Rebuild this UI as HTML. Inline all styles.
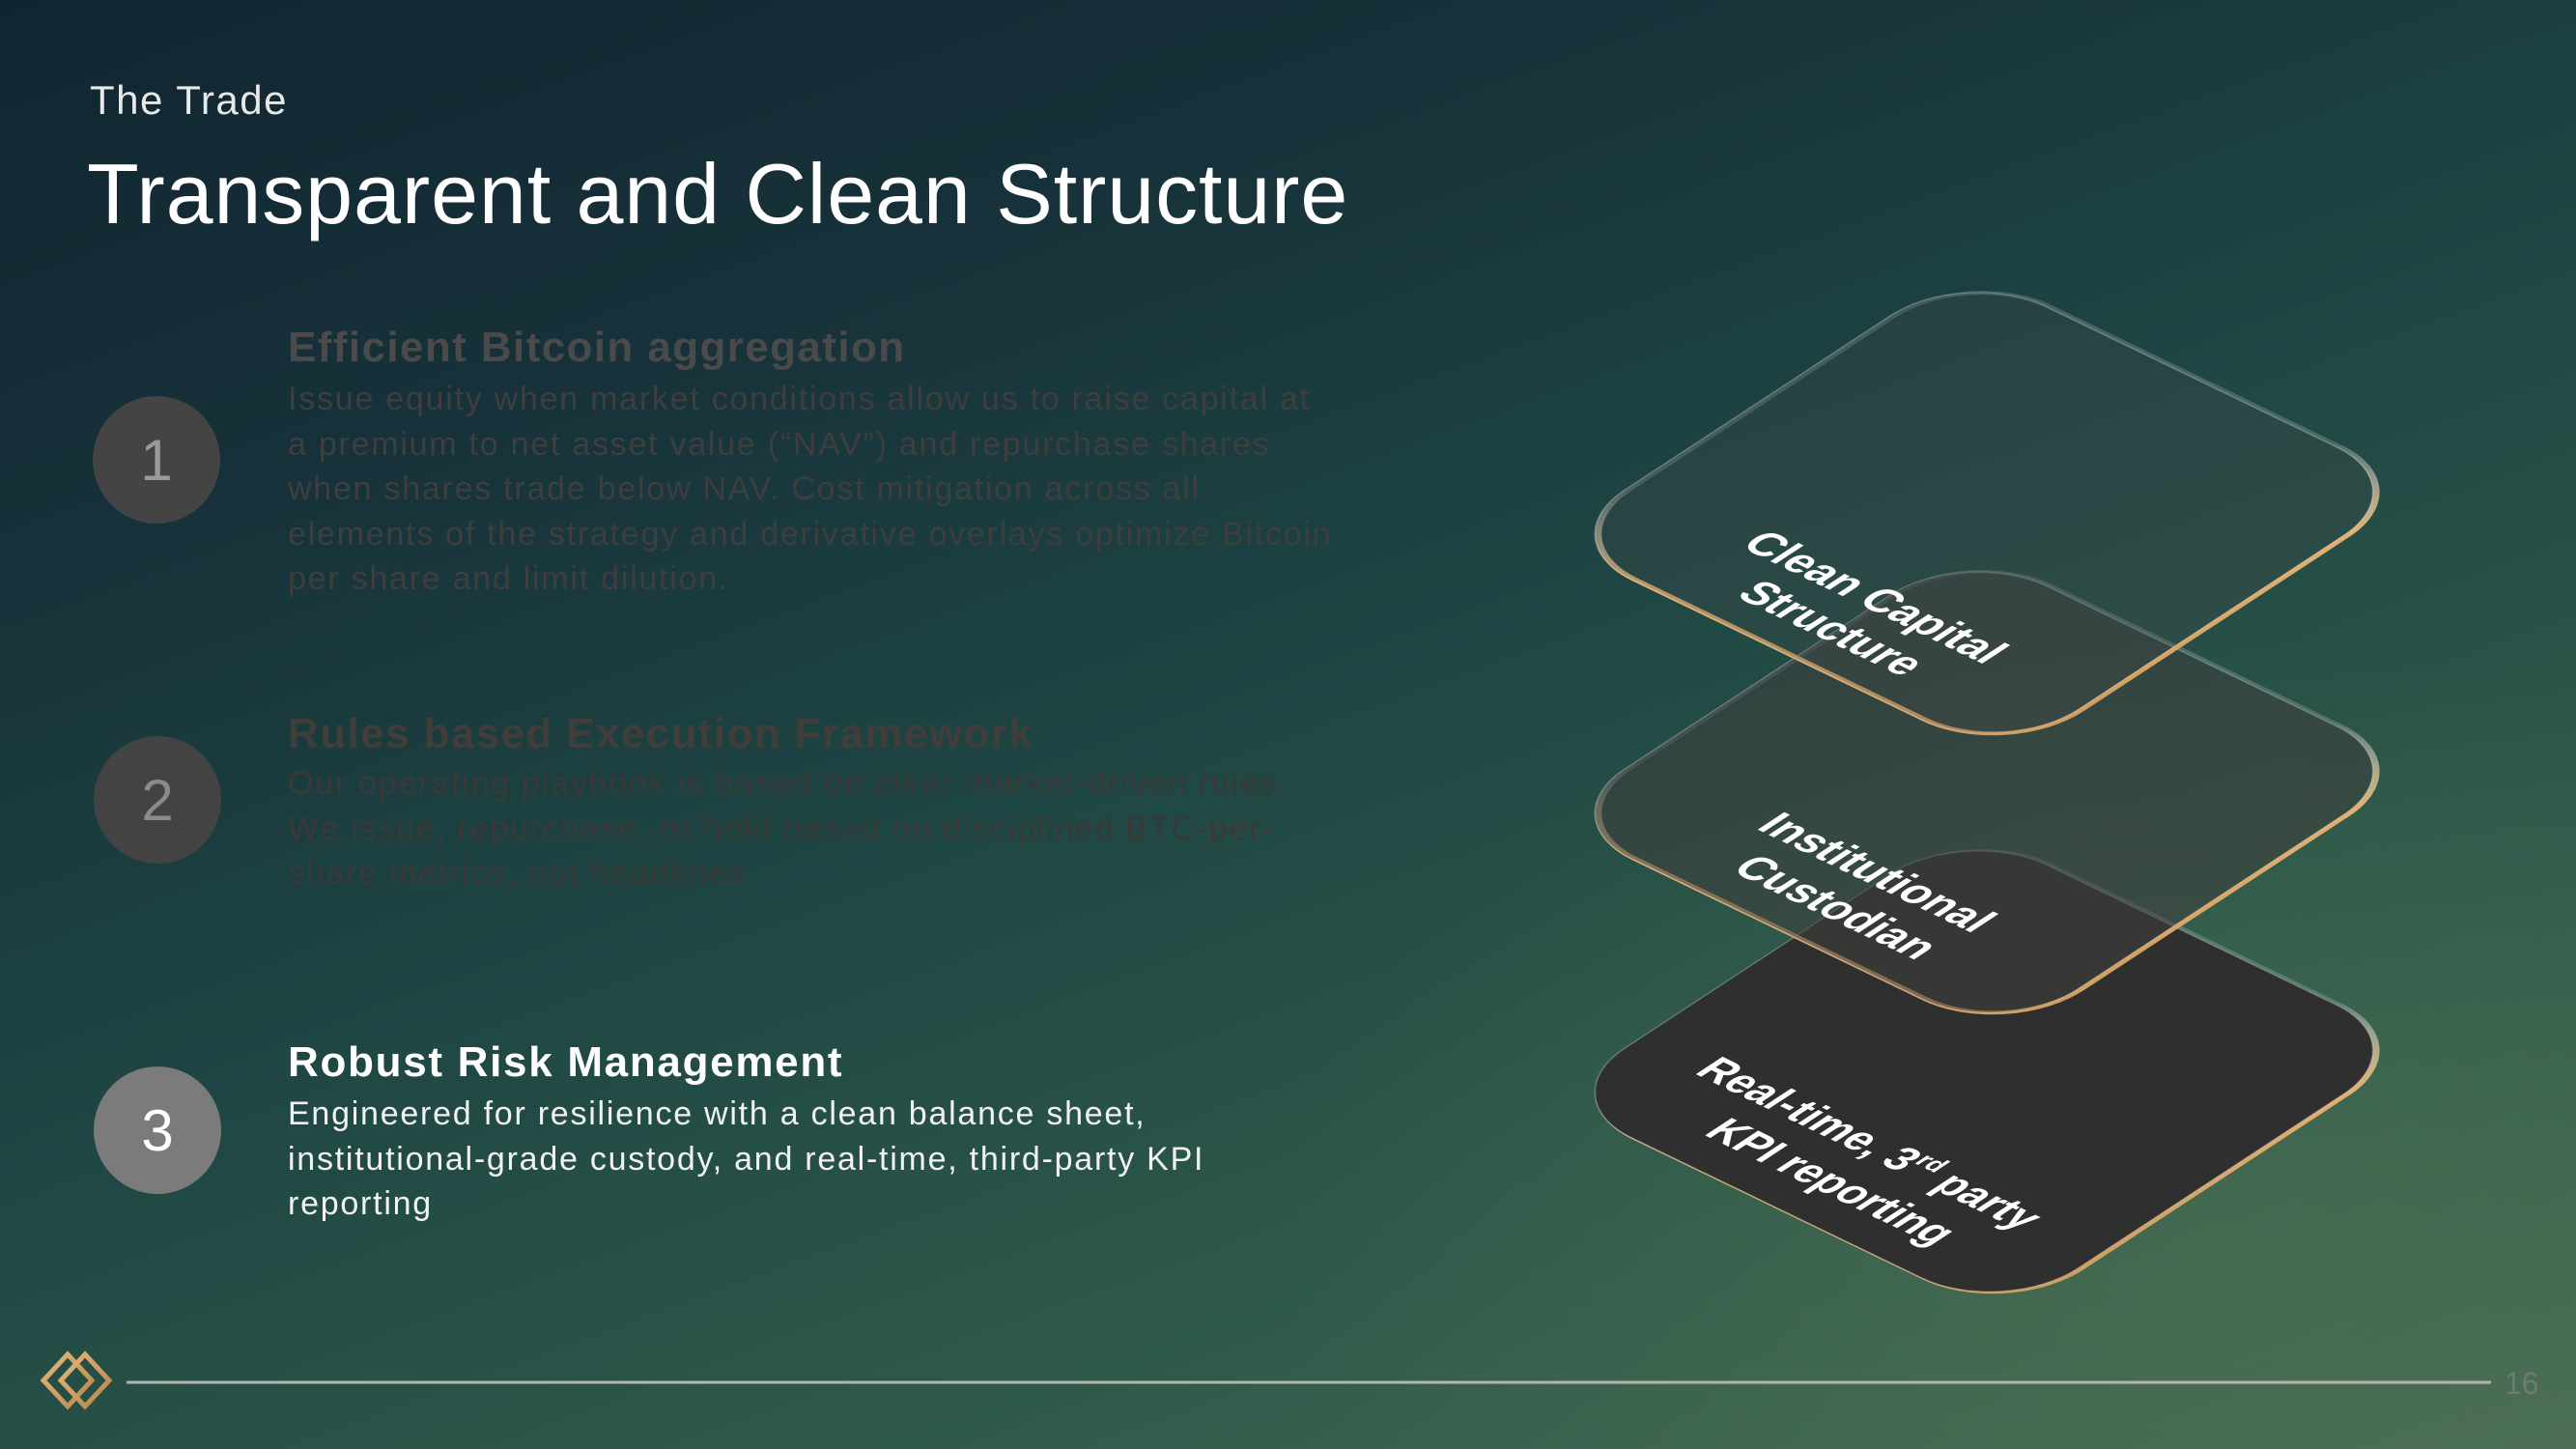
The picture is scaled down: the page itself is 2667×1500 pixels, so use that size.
<!DOCTYPE html>
<html><head><meta charset="utf-8"><style>
html,body{margin:0;padding:0}
body{width:2667px;height:1500px;position:relative;overflow:hidden;font-family:"Liberation Sans",sans-serif;
background:linear-gradient(160deg,#112530 0%,#17323a 25%,#1f4744 50%,#2f5a4a 75%,#4a6d54 100%);}
.ov{position:absolute;inset:0;background:radial-gradient(ellipse 1400px 900px at 2300px 1300px,rgba(80,115,85,0.45),rgba(0,0,0,0) 70%);}
.t{position:absolute;white-space:nowrap;}
.c{position:absolute;border-radius:50%;width:132px;height:132px;display:flex;align-items:center;justify-content:center;font-size:60px;}
.h{font-weight:bold;font-size:44px;letter-spacing:1.4px;}
.b{font-size:34px;line-height:46.5px;letter-spacing:1.75px;}
</style></head><body>
<div class="ov"></div>
<div class="t" style="left:93px;top:80px;font-size:42px;color:#e8e8e8;letter-spacing:1.5px;">The Trade</div>
<div class="t" style="left:90px;top:150px;font-size:88px;color:#ffffff;letter-spacing:0.9px;">Transparent and Clean Structure</div>

<div class="c" style="left:96px;top:410px;background:#444;color:#9a9a9a;">1</div>
<div class="c" style="left:97px;top:762px;background:#434343;color:#8a8a8a;">2</div>
<div class="c" style="left:97px;top:1104px;background:#7b7b7b;color:#fff;">3</div>

<div class="t h" style="left:298px;top:335px;color:#4a4a4a;">Efficient Bitcoin aggregation</div>
<div class="t b" style="left:298px;top:390px;color:#3e3e3e;">Issue equity when market conditions allow us to raise capital at<br>a premium to net asset value (“NAV”) and repurchase shares<br>when shares trade below NAV. Cost mitigation across all<br>elements of the strategy and derivative overlays optimize Bitcoin<br>per share and limit dilution.</div>

<div class="t h" style="left:298px;top:735px;color:#413d3b;">Rules based Execution Framework</div>
<div class="t b" style="left:298px;top:788px;color:#3b3937;">Our operating playbook is based on clear market-driven rules.<br>We issue, repurchase, or hold based on disciplined BTC-per-<br>share metrics, not headlines</div>

<div class="t h" style="left:298px;top:1075px;color:#fff;letter-spacing:1.7px;">Robust Risk Management</div>
<div class="t b" style="left:298px;top:1130px;color:#f2f2f2;">Engineered for resilience with a clean balance sheet,<br>institutional-grade custody, and real-time, third-party KPI<br>reporting</div>

<svg width="2667" height="1500" style="position:absolute;left:0;top:0" xmlns="http://www.w3.org/2000/svg">
<defs>
<linearGradient id="g" x1="0" y1="0" x2="1" y2="1"><stop offset="0" stop-color="#e6b67a"/><stop offset="1" stop-color="#b8864a"/></linearGradient>
<linearGradient id="gs" x1="1" y1="0" x2="0" y2="1"><stop offset="0.4" stop-color="#ffffff" stop-opacity="0.18"/><stop offset="0.58" stop-color="#e2b070" stop-opacity="1"/><stop offset="1" stop-color="#c99a5e"/></linearGradient>
</defs>
<!-- bottom layer -->
<g transform="matrix(4.3 -2.82 4.7 2.27 1604 1136.5)">
<rect x="0" y="0" width="100" height="100" rx="18" fill="none" stroke="url(#gs)" stroke-width="1.1" transform="translate(0.3 0.45)"/>
<rect x="0" y="0" width="100" height="100" rx="18" fill="#2f2f2f" stroke="rgba(255,255,255,0.22)" stroke-width="0.3"/>
<g transform="rotate(90)" font-family="Liberation Sans,sans-serif" font-weight="bold" font-size="9.3" fill="#fff">
<text x="13.5" y="-20" textLength="72" lengthAdjust="spacingAndGlyphs">Real-time, 3<tspan font-size="5.5" dy="-3.5">rd</tspan><tspan dy="3.5"> party</tspan></text>
<text x="26.5" y="-8" textLength="51" lengthAdjust="spacingAndGlyphs">KPI reporting</text>
</g></g>
<!-- middle layer -->
<g transform="matrix(4.3 -2.82 4.7 2.27 1604 847.5)">
<rect x="0" y="0" width="100" height="100" rx="18" fill="none" stroke="url(#gs)" stroke-width="1.1" transform="translate(0.3 0.45)"/>
<rect x="0" y="0" width="100" height="100" rx="18" fill="rgba(62,62,60,0.55)" stroke="rgba(255,255,255,0.22)" stroke-width="0.3"/>
<g transform="rotate(90)" font-family="Liberation Sans,sans-serif" font-weight="bold" font-size="9.3" fill="#fff">
<text x="28" y="-19" textLength="48" lengthAdjust="spacingAndGlyphs">Institutional</text>
<text x="33" y="-7.5" textLength="41" lengthAdjust="spacingAndGlyphs">Custodian</text>
</g></g>
<!-- top layer -->
<g transform="matrix(4.3 -2.82 4.7 2.27 1604 558.5)">
<rect x="0" y="0" width="100" height="100" rx="18" fill="none" stroke="url(#gs)" stroke-width="1.1" transform="translate(0.3 0.45)"/>
<rect x="0" y="0" width="100" height="100" rx="18" fill="rgba(70,72,70,0.25)" stroke="rgba(255,255,255,0.22)" stroke-width="0.3"/>
<g transform="rotate(90)" font-family="Liberation Sans,sans-serif" font-weight="bold" font-size="9.3" fill="#fff">
<text x="25.5" y="-18" textLength="54" lengthAdjust="spacingAndGlyphs">Clean Capital</text>
<text x="34.5" y="-7" textLength="37" lengthAdjust="spacingAndGlyphs">Structure</text>
</g></g>
<!-- footer -->
<line x1="131" y1="1431" x2="2579" y2="1431" stroke="#b5b5b0" stroke-width="3"/>
<text x="2593" y="1443" font-family="Liberation Sans,sans-serif" font-size="32" fill="#6f7a72">16</text>
<g fill="none" stroke="url(#g)" stroke-width="5">
<path d="M70 1402 L95 1429 L70 1456 L45 1429 Z"/>
<path d="M88 1402 L113 1429 L88 1456 L63 1429 Z"/>
</g>
</svg>
</body></html>
